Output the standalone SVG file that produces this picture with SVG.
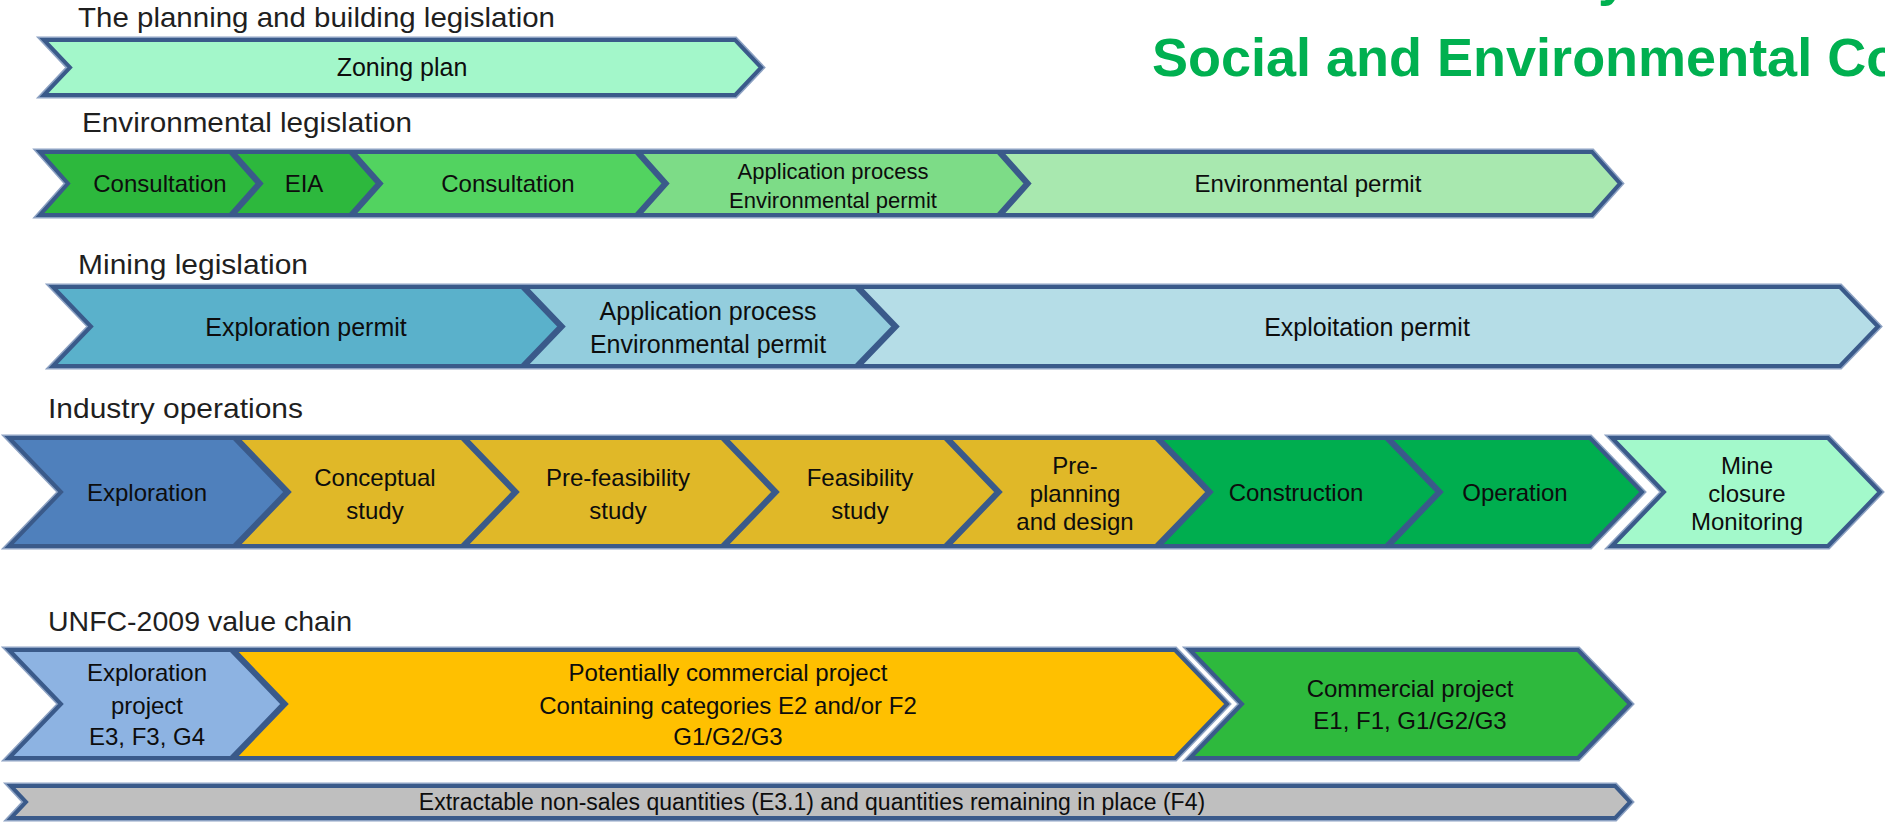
<svg xmlns="http://www.w3.org/2000/svg" width="1885" height="822" viewBox="0 0 1885 822">
<style>
.halo{fill:none;stroke:#8DA2C3;stroke-width:7;stroke-linejoin:miter}
.seg{stroke:#3A5A8A;stroke-width:4;stroke-linejoin:miter}
.t{font-family:"Liberation Sans",Arial,sans-serif;font-size:24px;fill:#0d0d0d;text-anchor:middle}
.h{font-family:"Liberation Sans",Arial,sans-serif;font-size:28px;fill:#1f1f1f}
.g{font-family:"Liberation Sans",Arial,sans-serif;font-size:54px;font-weight:bold;fill:#00B050}
</style>
<rect width="1885" height="822" fill="#ffffff"/>

<g id="titles">
<text class="g" x="1598" y="-5">y</text>
<text class="g" x="1152" y="76">Social and Environmental Co</text>
<text class="h" x="78" y="27" textLength="477" lengthAdjust="spacingAndGlyphs">The planning and building legislation</text>
<text class="h" x="82" y="132" textLength="330" lengthAdjust="spacingAndGlyphs">Environmental legislation</text>
<text class="h" x="78" y="274" textLength="230" lengthAdjust="spacingAndGlyphs">Mining legislation</text>
<text class="h" x="48" y="418" textLength="255" lengthAdjust="spacingAndGlyphs">Industry operations</text>
<text class="h" x="48" y="631" textLength="304" lengthAdjust="spacingAndGlyphs">UNFC-2009 value chain</text>
</g>

<g id="halos">
<polygon class="halo" points="44,40 735,40 761,67.5 735,95 44,95 70,67.5"/>
<polygon class="halo" points="40,152 1592,152 1620,183.5 1592,215 40,215 68,183.5"/>
<polygon class="halo" points="53,287 1840,287 1878,326.5 1840,366 53,366 91,326.5"/>
<polygon class="halo" points="9,438 1590,438 1642,492 1590,546 9,546 61,492"/>
<polygon class="halo" points="1612,438 1828,438 1880,492 1828,546 1612,546 1664,492"/>
<polygon class="halo" points="9,650 1175,650 1227,704 1175,758 9,758 61,704"/>
<polygon class="halo" points="1190,650 1578,650 1630,704 1578,758 1190,758 1242,704"/>
<polygon class="halo" points="11,786 1615,786 1630,802 1615,818 11,818 26,802"/>
</g>

<g id="zoning-plan">
<polygon class="seg" fill="#A3F7CA" points="44,40 735,40 761,67.5 735,95 44,95 70,67.5"/>
<text class="t" style="font-size:25px" x="402" y="76">Zoning plan</text>
</g>

<g id="env-consultation-1">
<polygon class="seg" fill="#2DB83D" points="40,152 230,152 258,183.5 230,215 40,215 68,183.5"/>
<text class="t" x="160" y="192">Consultation</text>
</g>
<g id="env-eia">
<polygon class="seg" fill="#2DB83D" points="233,152 350,152 378,183.5 350,215 233,215 261,183.5"/>
<text class="t" x="304" y="192">EIA</text>
</g>
<g id="env-consultation-2">
<polygon class="seg" fill="#52D360" points="353,152 636,152 664,183.5 636,215 353,215 381,183.5"/>
<text class="t" x="508" y="192">Consultation</text>
</g>
<g id="env-application">
<polygon class="seg" fill="#7DDC87" points="639,152 998,152 1026,183.5 998,215 639,215 667,183.5"/>
<text class="t" style="font-size:22px" x="833" y="179">Application process</text>
<text class="t" style="font-size:22px" x="833" y="208">Environmental permit</text>
</g>
<g id="env-permit">
<polygon class="seg" fill="#A8E8AF" points="1001,152 1592,152 1620,183.5 1592,215 1001,215 1029,183.5"/>
<text class="t" x="1308" y="192">Environmental permit</text>
</g>

<g id="mining-exploration-permit">
<polygon class="seg" fill="#5AB1CB" points="53,287 522,287 560,326.5 522,366 53,366 91,326.5"/>
<text class="t" style="font-size:25px" x="306" y="336">Exploration permit</text>
</g>
<g id="mining-application">
<polygon class="seg" fill="#93CDDD" points="525,287 856,287 894,326.5 856,366 525,366 563,326.5"/>
<text class="t" style="font-size:25px" x="708" y="320">Application process</text>
<text class="t" style="font-size:25px" x="708" y="353">Environmental permit</text>
</g>
<g id="mining-exploitation-permit">
<polygon class="seg" fill="#B5DDE7" points="859,287 1840,287 1878,326.5 1840,366 859,366 897,326.5"/>
<text class="t" style="font-size:25px" x="1367" y="336">Exploitation permit</text>
</g>

<g id="ops-exploration">
<polygon class="seg" fill="#4F80BC" points="9,438 234,438 286,492 234,546 9,546 61,492"/>
<text class="t" x="147" y="501">Exploration</text>
</g>
<g id="ops-conceptual">
<polygon class="seg" fill="#E0B828" points="237,438 462,438 514,492 462,546 237,546 289,492"/>
<text class="t" x="375" y="486">Conceptual</text>
<text class="t" x="375" y="519">study</text>
</g>
<g id="ops-prefeasibility">
<polygon class="seg" fill="#E0B828" points="465,438 722,438 774,492 722,546 465,546 517,492"/>
<text class="t" x="618" y="486">Pre-feasibility</text>
<text class="t" x="618" y="519">study</text>
</g>
<g id="ops-feasibility">
<polygon class="seg" fill="#E0B828" points="725,438 945,438 997,492 945,546 725,546 777,492"/>
<text class="t" x="860" y="486">Feasibility</text>
<text class="t" x="860" y="519">study</text>
</g>
<g id="ops-preplanning">
<polygon class="seg" fill="#E0B828" points="948,438 1156,438 1208,492 1156,546 948,546 1000,492"/>
<text class="t" x="1075" y="474">Pre-</text>
<text class="t" x="1075" y="502">planning</text>
<text class="t" x="1075" y="530">and design</text>
</g>
<g id="ops-construction">
<polygon class="seg" fill="#00AE4F" points="1159,438 1386,438 1438,492 1386,546 1159,546 1211,492"/>
<text class="t" x="1296" y="501">Construction</text>
</g>
<g id="ops-operation">
<polygon class="seg" fill="#00AE4F" points="1389,438 1590,438 1642,492 1590,546 1389,546 1441,492"/>
<text class="t" x="1515" y="501">Operation</text>
</g>
<g id="ops-mine-closure">
<polygon class="seg" fill="#A3F9CB" points="1612,438 1828,438 1880,492 1828,546 1612,546 1664,492"/>
<text class="t" x="1747" y="474">Mine</text>
<text class="t" x="1747" y="502">closure</text>
<text class="t" x="1747" y="530">Monitoring</text>
</g>

<g id="unfc-exploration-project">
<polygon class="seg" fill="#8DB3E2" points="9,650 231,650 283,704 231,758 9,758 61,704"/>
<text class="t" x="147" y="681">Exploration</text>
<text class="t" x="147" y="714">project</text>
<text class="t" x="147" y="745">E3, F3, G4</text>
</g>
<g id="unfc-potentially-commercial">
<polygon class="seg" fill="#FFC000" points="234,650 1175,650 1227,704 1175,758 234,758 286,704"/>
<text class="t" x="728" y="681">Potentially commercial project</text>
<text class="t" x="728" y="714">Containing categories E2 and/or F2</text>
<text class="t" x="728" y="745">G1/G2/G3</text>
</g>
<g id="unfc-commercial">
<polygon class="seg" fill="#2EB93D" points="1190,650 1578,650 1630,704 1578,758 1190,758 1242,704"/>
<text class="t" x="1410" y="697">Commercial project</text>
<text class="t" x="1410" y="729">E1, F1, G1/G2/G3</text>
</g>

<g id="unfc-remaining">
<polygon class="seg" fill="#BFBFBF" points="11,786 1615,786 1630,802 1615,818 11,818 26,802"/>
<text class="t" style="font-size:23px" x="812" y="810">Extractable non-sales quantities (E3.1) and quantities remaining in place (F4)</text>
</g>

<g id="connectors"/>
</svg>
